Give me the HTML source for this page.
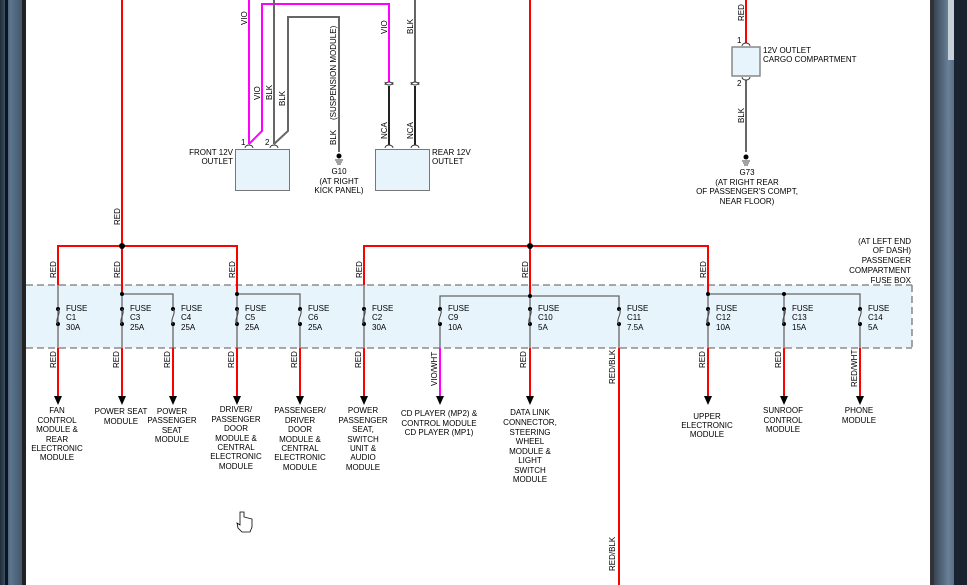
<!DOCTYPE html>
<html><head><meta charset="utf-8"><style>
html,body{margin:0;padding:0;width:967px;height:585px;overflow:hidden;background:#fff}
svg{display:block}
text{font-family:"Liberation Sans",sans-serif;font-size:8px;fill:#000}
.w{font-size:7.5px}
</style></head><body>
<svg width="967" height="585" viewBox="0 0 967 585" xmlns="http://www.w3.org/2000/svg">
<defs>
<linearGradient id="lf" x1="0" x2="1"><stop offset="0" stop-color="#1e2a38"/><stop offset="0.4" stop-color="#5d7690"/><stop offset="1" stop-color="#3a4c60"/></linearGradient>
<linearGradient id="rf" x1="0" x2="1"><stop offset="0" stop-color="#2a3442"/><stop offset="0.5" stop-color="#6a8198"/><stop offset="1" stop-color="#2e3b4b"/></linearGradient>
</defs>
<rect x="0" y="0" width="26" height="585" fill="url(#lf)"/>
<rect x="5" y="0" width="3" height="585" fill="#0d141c"/>
<rect x="22" y="0" width="4" height="585" fill="#222"/>
<rect x="930" y="0" width="37" height="585" fill="url(#rf)"/>
<rect x="930" y="0" width="4" height="585" fill="#333"/>
<rect x="948" y="0" width="6" height="60" fill="#c8d0d8"/>
<rect x="954" y="0" width="13" height="585" fill="#1a2430"/>

<rect x="26" y="285" width="886" height="63" fill="#e8f4fc"/>
<line x1="26" y1="285" x2="912" y2="285" stroke="#777" stroke-width="1.3" stroke-dasharray="7,4"/>
<line x1="26" y1="348" x2="912" y2="348" stroke="#777" stroke-width="1.3" stroke-dasharray="7,4"/>
<line x1="912" y1="285" x2="912" y2="348" stroke="#777" stroke-width="1.3" stroke-dasharray="7,4"/>
<text x="911" y="244" text-anchor="end">(AT LEFT END</text>
<text x="911" y="253" text-anchor="end">OF DASH)</text>
<text x="911" y="263" text-anchor="end">PASSENGER</text>
<text x="911" y="273" text-anchor="end">COMPARTMENT</text>
<text x="911" y="283" text-anchor="end">FUSE BOX</text>

<g stroke="#f00" stroke-width="2" fill="none">
<line x1="122" y1="0" x2="122" y2="294"/>
<polyline points="58,285 58,246 237,246 237,294"/>
<line x1="530" y1="0" x2="530" y2="294"/>
<polyline points="364,285 364,246 708,246 708,294"/>
<line x1="746" y1="0" x2="746" y2="43"/>
<line x1="58" y1="348" x2="58" y2="398"/>
<line x1="122" y1="348" x2="122" y2="398"/>
<line x1="173" y1="348" x2="173" y2="398"/>
<line x1="237" y1="348" x2="237" y2="398"/>
<line x1="300" y1="348" x2="300" y2="398"/>
<line x1="364" y1="348" x2="364" y2="398"/>
<line x1="530" y1="348" x2="530" y2="398"/>
<line x1="619" y1="348" x2="619" y2="585"/>
<line x1="708" y1="348" x2="708" y2="398"/>
<line x1="784" y1="348" x2="784" y2="398"/>
<line x1="860" y1="348" x2="860" y2="398"/>
</g>
<line x1="440" y1="348" x2="440" y2="398" stroke="#f0f" stroke-width="2"/>
<circle cx="122" cy="246" r="3" fill="#000"/>
<circle cx="530" cy="246" r="3" fill="#000"/>

<g stroke="#666" stroke-width="1.3" fill="none">
<polyline points="122,294 173,294 173,309"/>
<polyline points="237,294 300,294 300,309"/>
<polyline points="440,309 440,296 619,296 619,309"/>
<polyline points="708,294 860,294 860,309"/>
<line x1="58" y1="285" x2="58" y2="348"/>
<line x1="122" y1="294" x2="122" y2="348"/>
<line x1="173" y1="324" x2="173" y2="348"/>
<line x1="237" y1="294" x2="237" y2="348"/>
<line x1="300" y1="324" x2="300" y2="348"/>
<line x1="364" y1="285" x2="364" y2="348"/>
<line x1="440" y1="324" x2="440" y2="348"/>
<line x1="530" y1="294" x2="530" y2="348"/>
<line x1="619" y1="324" x2="619" y2="348"/>
<line x1="708" y1="294" x2="708" y2="348"/>
<line x1="784" y1="294" x2="784" y2="348"/>
<line x1="860" y1="324" x2="860" y2="348"/>
</g>
<g fill="#000">
<circle cx="122" cy="294" r="2"/><circle cx="237" cy="294" r="2"/><circle cx="530" cy="296" r="2"/>
<circle cx="708" cy="294" r="2"/><circle cx="784" cy="294" r="2"/>
</g>

<g>
<g transform="translate(58,0)"><circle cx="0" cy="309" r="2"/><circle cx="0" cy="324" r="2"/><path d="M0,309 C4,313 -4,320 0,324" stroke="#444" fill="none"/><text x="8" y="311">FUSE</text><text x="8" y="320">C1</text><text x="8" y="330">30A</text></g>
<g transform="translate(122,0)"><circle cx="0" cy="309" r="2"/><circle cx="0" cy="324" r="2"/><path d="M0,309 C4,313 -4,320 0,324" stroke="#444" fill="none"/><text x="8" y="311">FUSE</text><text x="8" y="320">C3</text><text x="8" y="330">25A</text></g>
<g transform="translate(173,0)"><circle cx="0" cy="309" r="2"/><circle cx="0" cy="324" r="2"/><path d="M0,309 C4,313 -4,320 0,324" stroke="#444" fill="none"/><text x="8" y="311">FUSE</text><text x="8" y="320">C4</text><text x="8" y="330">25A</text></g>
<g transform="translate(237,0)"><circle cx="0" cy="309" r="2"/><circle cx="0" cy="324" r="2"/><path d="M0,309 C4,313 -4,320 0,324" stroke="#444" fill="none"/><text x="8" y="311">FUSE</text><text x="8" y="320">C5</text><text x="8" y="330">25A</text></g>
<g transform="translate(300,0)"><circle cx="0" cy="309" r="2"/><circle cx="0" cy="324" r="2"/><path d="M0,309 C4,313 -4,320 0,324" stroke="#444" fill="none"/><text x="8" y="311">FUSE</text><text x="8" y="320">C6</text><text x="8" y="330">25A</text></g>
<g transform="translate(364,0)"><circle cx="0" cy="309" r="2"/><circle cx="0" cy="324" r="2"/><path d="M0,309 C4,313 -4,320 0,324" stroke="#444" fill="none"/><text x="8" y="311">FUSE</text><text x="8" y="320">C2</text><text x="8" y="330">30A</text></g>
<g transform="translate(440,0)"><circle cx="0" cy="309" r="2"/><circle cx="0" cy="324" r="2"/><path d="M0,309 C4,313 -4,320 0,324" stroke="#444" fill="none"/><text x="8" y="311">FUSE</text><text x="8" y="320">C9</text><text x="8" y="330">10A</text></g>
<g transform="translate(530,0)"><circle cx="0" cy="309" r="2"/><circle cx="0" cy="324" r="2"/><path d="M0,309 C4,313 -4,320 0,324" stroke="#444" fill="none"/><text x="8" y="311">FUSE</text><text x="8" y="320">C10</text><text x="8" y="330">5A</text></g>
<g transform="translate(619,0)"><circle cx="0" cy="309" r="2"/><circle cx="0" cy="324" r="2"/><path d="M0,309 C4,313 -4,320 0,324" stroke="#444" fill="none"/><text x="8" y="311">FUSE</text><text x="8" y="320">C11</text><text x="8" y="330">7.5A</text></g>
<g transform="translate(708,0)"><circle cx="0" cy="309" r="2"/><circle cx="0" cy="324" r="2"/><path d="M0,309 C4,313 -4,320 0,324" stroke="#444" fill="none"/><text x="8" y="311">FUSE</text><text x="8" y="320">C12</text><text x="8" y="330">10A</text></g>
<g transform="translate(784,0)"><circle cx="0" cy="309" r="2"/><circle cx="0" cy="324" r="2"/><path d="M0,309 C4,313 -4,320 0,324" stroke="#444" fill="none"/><text x="8" y="311">FUSE</text><text x="8" y="320">C13</text><text x="8" y="330">15A</text></g>
<g transform="translate(860,0)"><circle cx="0" cy="309" r="2"/><circle cx="0" cy="324" r="2"/><path d="M0,309 C4,313 -4,320 0,324" stroke="#444" fill="none"/><text x="8" y="311">FUSE</text><text x="8" y="320">C14</text><text x="8" y="330">5A</text></g>
</g>

<g fill="#000">
<polygon points="54,396 62,396 58,405"/><polygon points="118,396 126,396 122,405"/>
<polygon points="169,396 177,396 173,405"/><polygon points="233,396 241,396 237,405"/>
<polygon points="296,396 304,396 300,405"/><polygon points="360,396 368,396 364,405"/>
<polygon points="436,396 444,396 440,405"/><polygon points="526,396 534,396 530,405"/>
<polygon points="704,396 712,396 708,405"/><polygon points="780,396 788,396 784,405"/>
<polygon points="856,396 864,396 860,405"/>
</g>

<g class="w">
<text transform="translate(56,278) rotate(-90)">RED</text>
<text transform="translate(120,278) rotate(-90)">RED</text>
<text transform="translate(235,278) rotate(-90)">RED</text>
<text transform="translate(362,278) rotate(-90)">RED</text>
<text transform="translate(528,278) rotate(-90)">RED</text>
<text transform="translate(706,278) rotate(-90)">RED</text>
<text transform="translate(120,225) rotate(-90)">RED</text>
<text transform="translate(56,368) rotate(-90)">RED</text>
<text transform="translate(119,368) rotate(-90)">RED</text>
<text transform="translate(170,368) rotate(-90)">RED</text>
<text transform="translate(234,368) rotate(-90)">RED</text>
<text transform="translate(297,368) rotate(-90)">RED</text>
<text transform="translate(361,368) rotate(-90)">RED</text>
<text transform="translate(437,386) rotate(-90)">VIO/WHT</text>
<text transform="translate(526,368) rotate(-90)">RED</text>
<text transform="translate(615,384) rotate(-90)">RED/BLK</text>
<text transform="translate(615,571) rotate(-90)">RED/BLK</text>
<text transform="translate(705,368) rotate(-90)">RED</text>
<text transform="translate(781,368) rotate(-90)">RED</text>
<text transform="translate(857,387) rotate(-90)">RED/WHT</text>
</g>

<g text-anchor="middle">
<text x="57" y="413">FAN</text><text x="57" y="423">CONTROL</text><text x="57" y="432">MODULE &amp;</text><text x="57" y="442">REAR</text><text x="57" y="451">ELECTRONIC</text><text x="57" y="460">MODULE</text>
<text x="121" y="414">POWER SEAT</text><text x="121" y="424">MODULE</text>
<text x="172" y="414">POWER</text><text x="172" y="423">PASSENGER</text><text x="172" y="433">SEAT</text><text x="172" y="442">MODULE</text>
<text x="236" y="412">DRIVER/</text><text x="236" y="422">PASSENGER</text><text x="236" y="431">DOOR</text><text x="236" y="441">MODULE &amp;</text><text x="236" y="450">CENTRAL</text><text x="236" y="459">ELECTRONIC</text><text x="236" y="469">MODULE</text>
<text x="300" y="413">PASSENGER/</text><text x="300" y="423">DRIVER</text><text x="300" y="432">DOOR</text><text x="300" y="442">MODULE &amp;</text><text x="300" y="451">CENTRAL</text><text x="300" y="460">ELECTRONIC</text><text x="300" y="470">MODULE</text>
<text x="363" y="413">POWER</text><text x="363" y="423">PASSENGER</text><text x="363" y="432">SEAT,</text><text x="363" y="442">SWITCH</text><text x="363" y="451">UNIT &amp;</text><text x="363" y="460">AUDIO</text><text x="363" y="470">MODULE</text>
<text x="439" y="416">CD PLAYER (MP2) &amp;</text><text x="439" y="426">CONTROL MODULE</text><text x="439" y="435">CD PLAYER (MP1)</text>
<text x="530" y="415">DATA LINK</text><text x="530" y="425">CONNECTOR,</text><text x="530" y="435">STEERING</text><text x="530" y="444">WHEEL</text><text x="530" y="454">MODULE &amp;</text><text x="530" y="463">LIGHT</text><text x="530" y="473">SWITCH</text><text x="530" y="482">MODULE</text>
<text x="707" y="419">UPPER</text><text x="707" y="428">ELECTRONIC</text><text x="707" y="437">MODULE</text>
<text x="783" y="413">SUNROOF</text><text x="783" y="423">CONTROL</text><text x="783" y="432">MODULE</text>
<text x="859" y="413">PHONE</text><text x="859" y="423">MODULE</text>
</g>

<g fill="none" stroke-width="2">
<line x1="249" y1="0" x2="249" y2="144" stroke="#f0f"/>
<polyline points="389,82 389,4 262,4 262,131 249,144" stroke="#f0f"/>
<line x1="274" y1="0" x2="274" y2="144" stroke="#666"/>
<polyline points="274,144 288,131 288,17 339,17 339,152" stroke="#666"/>
<line x1="415" y1="0" x2="415" y2="82" stroke="#666"/>
<line x1="389" y1="86" x2="389" y2="145" stroke="#222"/>
<line x1="415" y1="86" x2="415" y2="145" stroke="#222"/>
<line x1="746" y1="80" x2="746" y2="152" stroke="#666"/>
</g>
<g fill="none" stroke="#333" stroke-width="1">
<path d="M385,85 A4,3 0 0 1 393,85"/><path d="M385,82 A4,3 0 0 0 393,82"/>
<path d="M411,85 A4,3 0 0 1 419,85"/><path d="M411,82 A4,3 0 0 0 419,82"/>
<path d="M245,148 A4,3 0 0 1 253,148"/><path d="M270,148 A4,3 0 0 1 278,148"/>
<path d="M385,148 A4,3 0 0 1 393,148"/><path d="M411,148 A4,3 0 0 1 419,148"/>
<path d="M742,46 A4,3 0 0 1 750,46"/><path d="M742,77 A4,3 0 0 0 750,77"/>
</g>
<rect x="235.5" y="149.5" width="54" height="41" fill="#e8f4fc" stroke="#777"/>
<rect x="375.5" y="149.5" width="54" height="41" fill="#e8f4fc" stroke="#777"/>
<rect x="732" y="47" width="28" height="29" fill="#e8f4fc" stroke="#888" stroke-width="1.5"/>
<g stroke="#444" stroke-width="1">
<line x1="335" y1="160" x2="343" y2="160"/><line x1="336" y1="162" x2="342" y2="162"/><line x1="337" y1="164" x2="341" y2="164"/>
<line x1="742" y1="161" x2="750" y2="161"/><line x1="743" y1="163" x2="749" y2="163"/><line x1="744" y1="165" x2="748" y2="165"/>
</g>
<circle cx="339" cy="156" r="2.5" fill="#000"/><circle cx="746" cy="157" r="2.5" fill="#000"/>

<text x="241" y="145">1</text><text x="265" y="145">2</text>
<text x="233" y="155" text-anchor="end">FRONT 12V</text><text x="233" y="164" text-anchor="end">OUTLET</text>
<text x="432" y="155">REAR 12V</text><text x="432" y="164">OUTLET</text>
<text x="339" y="174" text-anchor="middle">G10</text><text x="339" y="184" text-anchor="middle">(AT RIGHT</text><text x="339" y="193" text-anchor="middle">KICK PANEL)</text>
<text x="737" y="43">1</text><text x="737" y="86">2</text>
<text x="763" y="53">12V OUTLET</text><text x="763" y="62">CARGO COMPARTMENT</text>
<text x="747" y="175" text-anchor="middle">G73</text><text x="747" y="185" text-anchor="middle">(AT RIGHT REAR</text><text x="747" y="194" text-anchor="middle">OF PASSENGER'S COMPT,</text><text x="747" y="204" text-anchor="middle">NEAR FLOOR)</text>
<g class="w">
<text transform="translate(247,25) rotate(-90)">VIO</text>
<text transform="translate(260,100) rotate(-90)">VIO</text>
<text transform="translate(272,100) rotate(-90)">BLK</text>
<text transform="translate(285,106) rotate(-90)">BLK</text>
<text transform="translate(336,120) rotate(-90)">(SUSPENSION MODULE)</text>
<text transform="translate(336,145) rotate(-90)">BLK</text>
<text transform="translate(387,34) rotate(-90)">VIO</text>
<text transform="translate(413,34) rotate(-90)">BLK</text>
<text transform="translate(387,139) rotate(-90)">NCA</text>
<text transform="translate(413,139) rotate(-90)">NCA</text>
<text transform="translate(744,21) rotate(-90)">RED</text>
<text transform="translate(744,123) rotate(-90)">BLK</text>
</g>
<path d="M240,512 L240,525 L237,523 L238,528 L242,532 L250,532 L252,527 L252,519 L244,517 L244,512 Z" fill="#fff" stroke="#000" stroke-width="0.8"/>
</svg>
</body></html>
